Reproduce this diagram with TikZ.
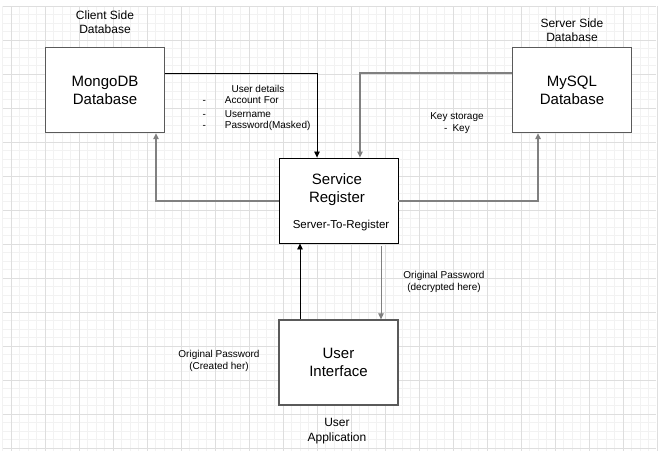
\documentclass[tikz,border=0pt]{standalone}
\usepackage{fontspec}
\setmainfont{Liberation Sans}
\usetikzlibrary{arrows.meta}
\definecolor{gridminor}{HTML}{F2F2F2}
\definecolor{gridmajor}{HTML}{DEDEDE}
\definecolor{boxline}{HTML}{5A5A5A}
\definecolor{linkgray}{HTML}{808080}
\begin{document}
\begin{tikzpicture}
  [x=1pt,y=-1pt,
   box/.style={draw=boxline,line width=1.3pt,fill=white,minimum width=119pt,
     minimum height=85pt,align=center,font=\fontsize{15}{18}\selectfont},
   boxcaption/.style={align=center,font=\fontsize{12}{14.5}\selectfont},
   note/.style={align=center,font=\fontsize{10}{12.5}\selectfont},
   link/.style={-{Triangle[length=6pt,width=5.5pt]},line width=0.8pt},
   glink/.style={link,draw=linkgray,line width=1.3pt}]
  \useasboundingbox (0,0) rectangle (665,458);
  \fill[white] (0,0) rectangle (665,458);
  % grid
  \foreach \i in {0,...,76}
    \draw[gridminor,line width=0.5pt] (2.5+8.5*\i,6) -- (2.5+8.5*\i,451);
  \foreach \i in {0,...,52}
    \draw[gridminor,line width=0.5pt] (3,448-8.5*\i) -- (656,448-8.5*\i);
  \foreach \i in {0,...,19}
    \draw[gridmajor,line width=0.8pt] (11+34*\i,6) -- (11+34*\i,451);
  \foreach \i in {0,...,13}
    \draw[gridmajor,line width=0.8pt] (3,448-34*\i) -- (656,448-34*\i);

  \node[box] (mongo) at (105,90)  {MongoDB\\Database};
  \node[box] (mysql) at (572,90)  {MySQL\\Database};
  \node[box,draw=black,line width=0.9pt] (reg) at (338.5,200.5) {};
  \node[box] (ui)    at (338.5,362.5) {User\\Interface};

  \node[font=\fontsize{15}{18}\selectfont,align=center] (regname) at (337,190) {Service\\Register};
  \node[font=\fontsize{11.5}{14}\selectfont] (regsub) at (341,226) {Server-To-Register};

  \node[boxcaption] (clientcap) at (105,22)  {Client Side\\Database};
  \node[boxcaption] (servercap) at (572,30)  {Server Side\\Database};
  \node[boxcaption] (uicap)     at (337,431) {User\\Application};

  \node[note] (details) at (258,89) {User details};
  \node[note,anchor=west] (d1) at (199,100) {-\hspace{19pt}Account For};
  \node[note,anchor=west] (d2) at (199,114) {-\hspace{19pt}Username};
  \node[note,anchor=west] (d3) at (199,126) {-\hspace{19pt}Password(Masked)};
  \node[note] (keys) at (457,123) {Key storage\\-\hspace{5pt}Key};
  \node[note] (decpw) at (444,282) {Original Password\\(decrypted here)};
  \node[note] (crepw) at (219,361) {Original Password\\(Created her)};

  \coordinate (c1) at (317,73);
  \coordinate (c2) at (360,73);
  \coordinate (c3) at (156,201);
  \coordinate (c4) at (538,201);
  \coordinate (c5) at (300,0);
  \coordinate (c6) at (381,0);

  \draw[link] (mongo.east |- c1) -| (c1 |- reg.north);
  \draw[glink] (mysql.west |- c2) -| (c2 |- reg.north);
  \draw[glink] (reg.west |- c3) -| (c3 |- mongo.south);
  \draw[glink] (reg.east |- c4) -| (c4 |- mysql.south);
  \draw[link] (c5 |- ui.north) -- (c5 |- reg.south);
  \draw[link,draw=linkgray] ([yshift=-3pt]c6 |- reg.south) -- (c6 |- ui.north);
\end{tikzpicture}
\end{document}
